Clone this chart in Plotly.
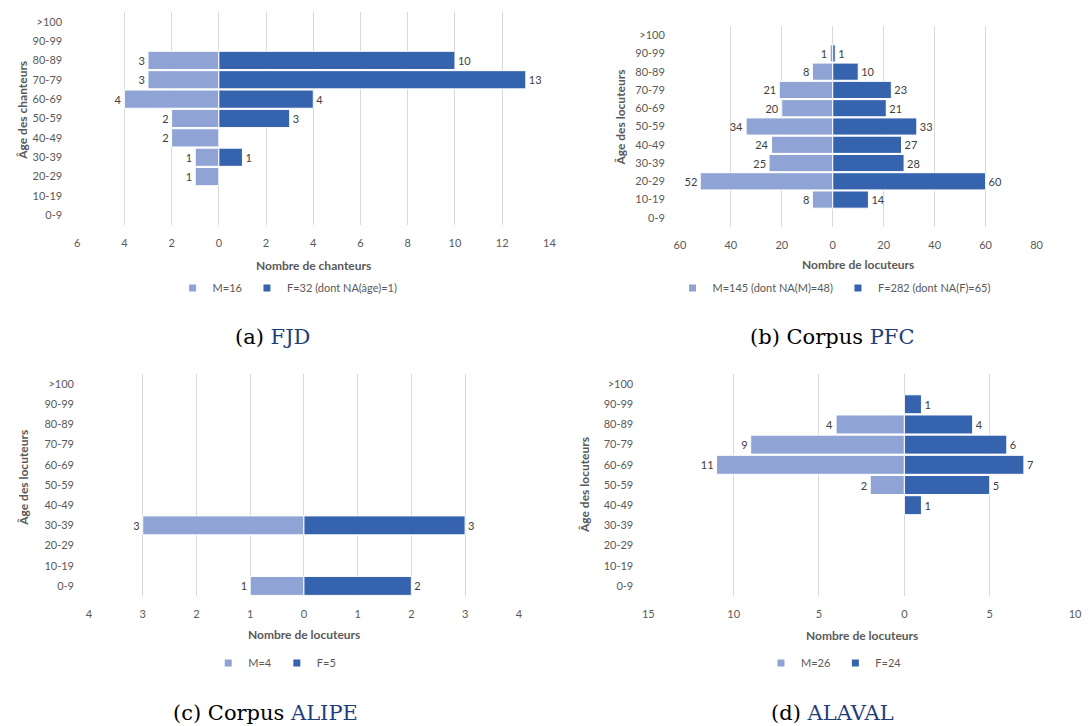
import plotly.graph_objects as go

# ---------------- data ----------------
ages = ["0-9", "10-19", "20-29", "30-39", "40-49", "50-59",
        "60-69", "70-79", "80-89", "90-99", ">100"]

fjd_m = [0, 0, 1, 1, 2, 2, 4, 3, 3, 0, 0]
fjd_f = [0, 0, 0, 1, 0, 3, 4, 13, 10, 0, 0]
pfc_m = [0, 8, 52, 25, 24, 34, 20, 21, 8, 1, 0]
pfc_f = [0, 14, 60, 28, 27, 33, 21, 23, 10, 1, 0]
alipe_m = [1, 0, 0, 3, 0, 0, 0, 0, 0, 0, 0]
alipe_f = [2, 0, 0, 3, 0, 0, 0, 0, 0, 0, 0]
alaval_m = [0, 0, 0, 0, 0, 2, 11, 9, 4, 0, 0]
alaval_f = [0, 0, 0, 0, 1, 5, 7, 6, 4, 1, 0]

ticks_a = [-6, -4, -2, 0, 2, 4, 6, 8, 10, 12, 14]
ticks_b = [-60, -40, -20, 0, 20, 40, 60, 80]
ticks_c = [-4, -3, -2, -1, 0, 1, 2, 3, 4]
ticks_d = [-15, -10, -5, 0, 5, 10]

legend_a = ["M=16", "F=32 (dont NA(âge)=1)"]
legend_b = ["M=145 (dont NA(M)=48)", "F=282 (dont NA(F)=65)"]
legend_c = ["M=4", "F=5"]
legend_d = ["M=26", "F=24"]

xtitles = ["Nombre de chanteurs", "Nombre de locuteurs", "Nombre de locuteurs", "Nombre de locuteurs"]
ytitles = ["Âge des chanteurs", "Âge des locuteurs", "Âge des locuteurs", "Âge des locuteurs"]
captions = [("(a) ", "FJD"), ("(b) Corpus ", "PFC"), ("(c) Corpus ", "ALIPE"), ("(d) ", "ALAVAL")]

# ---------------- style ----------------
W, H = 1091, 726
LIGHT = "#8FA4D4"
DARK = "#3563AE"
GRID = "#D9D9D9"
TICKC = "#595959"
LABELC = "#404040"
FONT = "Lato"
SERIF = "DejaVu Serif"
NAVY = "#1F3D7A"

def dx(a, b):
    return [a / W, b / W]

def dy(top, bottom):
    return [1 - bottom / H, 1 - top / H]

panels = [
    dict(m=fjd_m, f=fjd_f, ticks=ticks_a, leg=legend_a,
         xd=(72, 550), yd=(12, 225), lg=(285, 288), yt=(17, 110), xt=265, cap=(270, 337)),
    dict(m=pfc_m, f=pfc_f, ticks=ticks_b, leg=legend_b,
         xd=(682, 1043), yd=(26, 227), lg=(838, 288), yt=(622, 118), xt=264, cap=(836, 337)),
    dict(m=alipe_m, f=alipe_f, ticks=ticks_c, leg=legend_c,
         xd=(84, 519), yd=(374, 596), lg=(272, 663), yt=(17, 478), xt=634, cap=(263, 713)),
    dict(m=alaval_m, f=alaval_f, ticks=ticks_d, leg=legend_d,
         xd=(650, 1082), yd=(374, 596), lg=(838, 663), yt=(585, 485), xt=635, cap=(836, 713)),
]

fig = go.Figure()
layout = dict(
    width=W, height=H, autosize=False,
    margin=dict(l=0, r=0, t=0, b=0),
    paper_bgcolor="white", plot_bgcolor="white",
    barmode="relative", bargap=0.06,
    font=dict(family=FONT, size=11, color=TICKC),
    annotations=[],
)

for i, p in enumerate(panels):
    n = "" if i == 0 else str(i + 1)
    xa, ya = "x" + n, "y" + n
    lg_name = "legend" + n
    grp = "g" + str(i)

    fig.add_trace(go.Bar(
        y=ages, x=[-v if v else None for v in p["m"]], orientation="h",
        xaxis=xa, yaxis=ya,
        marker=dict(color=LIGHT, line=dict(color="white", width=1)),
        text=[str(v) if v else "" for v in p["m"]],
        textposition="outside", constraintext="none", cliponaxis=False,
        textfont=dict(family=FONT, size=11, color=LABELC),
        showlegend=False, legendgroup=grp + "m", name=p["leg"][0],
        hovertemplate="%{y}: %{text}<extra></extra>",
    ))
    fig.add_trace(go.Bar(
        y=ages, x=[v if v else None for v in p["f"]], orientation="h",
        xaxis=xa, yaxis=ya,
        marker=dict(color=DARK, line=dict(color="white", width=1)),
        text=[str(v) if v else "" for v in p["f"]],
        textposition="outside", constraintext="none", cliponaxis=False,
        textfont=dict(family=FONT, size=11, color=LABELC),
        showlegend=False, legendgroup=grp + "f", name=p["leg"][1],
        hovertemplate="%{y}: %{text}<extra></extra>",
    ))
    # legend entries (small square swatches)
    for name, col, g in ((p["leg"][0], LIGHT, grp + "m"), (p["leg"][1], DARK, grp + "f")):
        fig.add_trace(go.Scatter(
            x=[None], y=[None], mode="markers", xaxis=xa, yaxis=ya,
            marker=dict(symbol="square", size=7, color=col),
            name=name, legend=lg_name, legendgroup=g, showlegend=True,
        ))

    t = p["ticks"]
    layout["xaxis" + n] = dict(
        domain=dx(*p["xd"]), anchor=ya, range=[t[0], t[-1]],
        tickmode="array", tickvals=t, ticktext=[str(abs(v)) for v in t],
        showgrid=True, gridcolor=GRID, gridwidth=1,
        zeroline=True, zerolinecolor=GRID, zerolinewidth=1,
        showline=False, ticks="", ticklabelstandoff=10,
        tickfont=dict(family=FONT, size=11, color=TICKC),
        fixedrange=True,
    )
    layout["yaxis" + n] = dict(
        domain=dy(*p["yd"]), anchor=xa, type="category",
        categoryorder="array", categoryarray=ages,
        showgrid=False, zeroline=False, showline=False, ticks="",
        ticklabelstandoff=14,
        tickfont=dict(family=FONT, size=11, color=TICKC),
        fixedrange=True,
    )
    layout[lg_name] = dict(
        orientation="h", x=p["lg"][0] / W, y=1 - p["lg"][1] / H,
        xanchor="center", yanchor="middle", bgcolor="rgba(0,0,0,0)",
        font=dict(family=FONT, size=11, color=TICKC),
        itemwidth=30, tracegroupgap=0,
    )
    # axis titles
    layout["annotations"].append(dict(
        text="<b>" + xtitles[i] + "</b>", xref="paper", yref="paper",
        x=(p["xd"][0] + p["xd"][1]) / 2 / W, y=1 - p["xt"] / H,
        xanchor="center", yanchor="middle", showarrow=False,
        font=dict(family=FONT, size=12, color=TICKC),
    ))
    layout["annotations"].append(dict(
        text="<b>" + ytitles[i] + "</b>", xref="paper", yref="paper",
        x=p["yt"][0] / W, y=1 - p["yt"][1] / H, textangle=-90,
        xanchor="center", yanchor="middle", showarrow=False,
        font=dict(family=FONT, size=12, color=TICKC),
    ))
    # caption
    pre, name = captions[i]
    layout["annotations"].append(dict(
        text=pre + "<span style='color:" + NAVY + "'>" + name + "</span>",
        xref="paper", yref="paper",
        x=p["cap"][0] / W, y=1 - p["cap"][1] / H,
        xanchor="center", yanchor="middle", showarrow=False,
        font=dict(family=SERIF, size=21, color="black"),
    ))

fig.update_layout(**layout)
fig.write_html(
    "out.html",
    config={"displayModeBar": False},
    post_script="document.body.style.margin='0';document.body.style.overflow='hidden';",
)
